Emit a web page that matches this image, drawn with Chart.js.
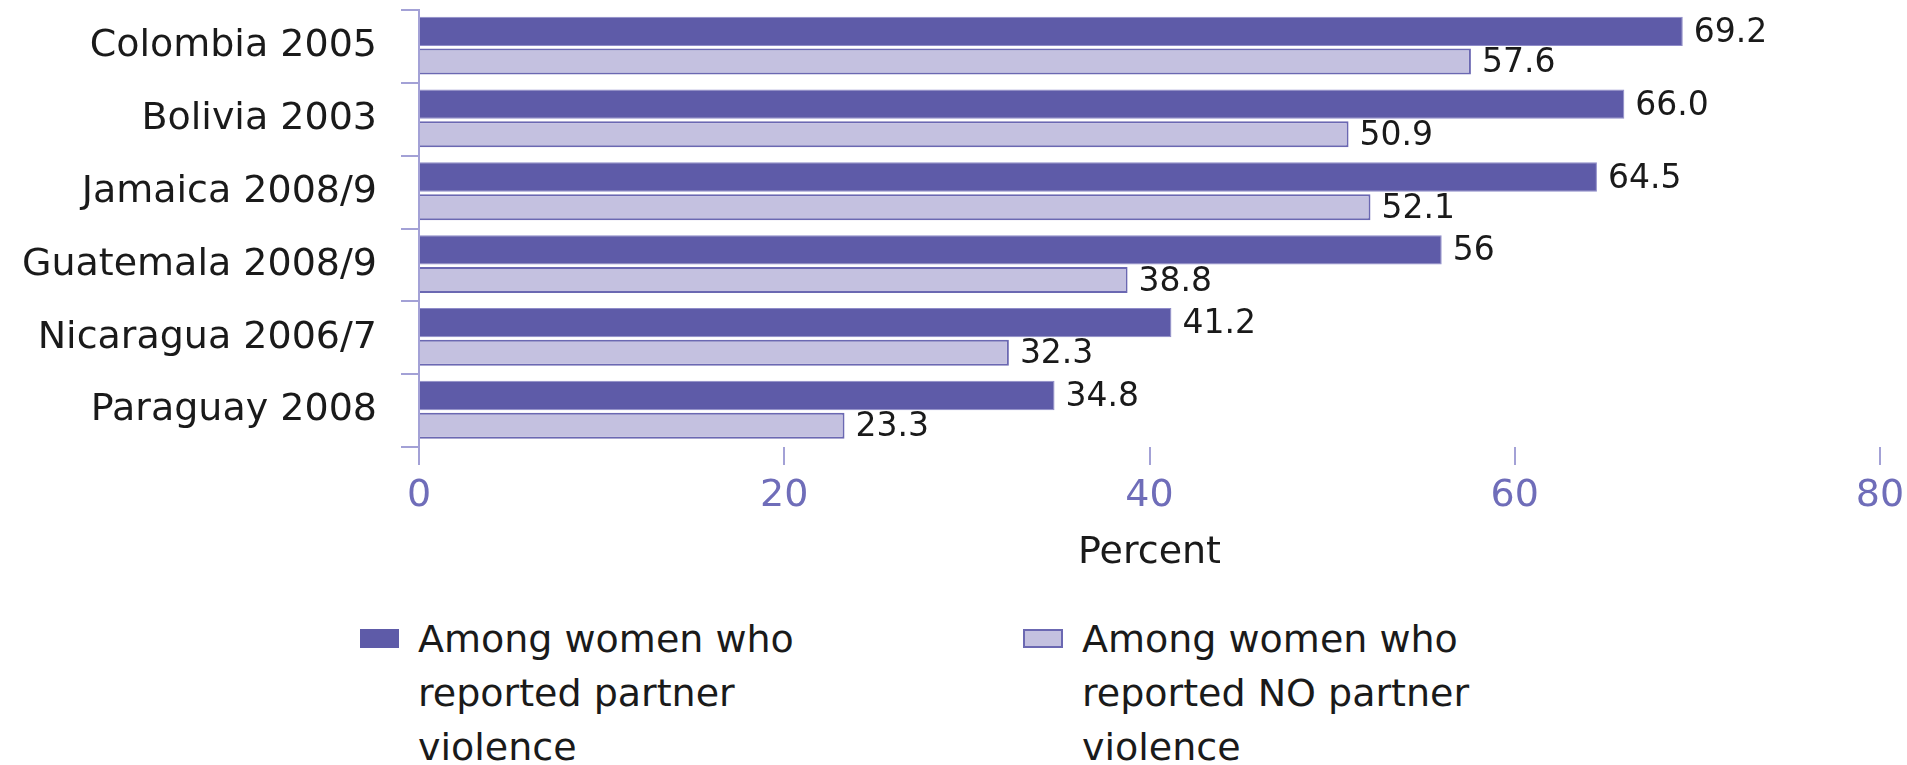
<!DOCTYPE html>
<html lang="en">
<head>
  <meta charset="UTF-8" />
  <title>Partner violence chart</title>
  <script src="https://cdn.jsdelivr.net/npm/chart.js"></script>
  <style>
    body { margin: 0; background: #fff; font-family: "DejaVu Sans", sans-serif; color: #1a1a1a; }
    .wrap { position: relative; width: 1907px; height: 765px; overflow: hidden; }
    #chart { position: absolute; left: 0; top: 0; }
    .legend-item { position: absolute; top: 612px; font-size: 38px; line-height: 54px; }
    .legend-item .box { position: absolute; top: 17px; height: 19px; box-sizing: border-box; }
    .legend-item .txt { position: absolute; top: 0; white-space: nowrap; }
  </style>
</head>
<body>
  <div class="wrap">
    <canvas id="chart" width="1907" height="600"></canvas>
    <div class="legend-item" style="left:360px">
      <div class="box" style="left:0; width:39px; background:#5e5ba8;"></div>
      <div class="txt" style="left:58px">Among women who<br>reported partner<br>violence</div>
    </div>
    <div class="legend-item" style="left:1023px">
      <div class="box" style="left:0; width:40px; background:#c4c1e0; border:2px solid #6b68b2;"></div>
      <div class="txt" style="left:59px">Among women who<br>reported NO partner<br>violence</div>
    </div>
  </div>

  <script>
    // --- data ---
    const countries = ['Colombia 2005', 'Bolivia 2003', 'Jamaica 2008/9', 'Guatemala 2008/9', 'Nicaragua 2006/7', 'Paraguay 2008'];
    const withViolence = [69.2, 66.0, 64.5, 56, 41.2, 34.8];
    const withoutViolence = [57.6, 50.9, 52.1, 38.8, 32.3, 23.3];
    const withViolenceText = ['69.2', '66.0', '64.5', '56', '41.2', '34.8'];
    const withoutViolenceText = ['57.6', '50.9', '52.1', '38.8', '32.3', '23.3'];
    const xTickValues = [0, 20, 40, 60, 80];

    const axisColor = '#a3a1d6';
    const tickColor = '#6f6db9';
    const fontFamily = "'DejaVu Sans', sans-serif";

    // writes the value just past the end of each bar
    const valueLabels = {
      id: 'valueLabels',
      afterDatasetsDraw(chart) {
        const ctx = chart.ctx;
        const texts = [withViolenceText, withoutViolenceText];
        ctx.save();
        ctx.font = '33px ' + fontFamily;
        ctx.fillStyle = '#1a1a1a';
        ctx.textAlign = 'left';
        ctx.textBaseline = 'middle';
        chart.data.datasets.forEach((ds, di) => {
          chart.getDatasetMeta(di).data.forEach((bar, i) => {
            ctx.fillText(texts[di][i], bar.x + 11, bar.y + 2);
          });
        });
        ctx.restore();
      }
    };

    new Chart(document.getElementById('chart'), {
      type: 'bar',
      data: {
        labels: countries,
        datasets: [
          {
            label: 'Among women who reported partner violence',
            data: withViolence,
            backgroundColor: '#5e5ba8',
            borderColor: '#8f8cc9',
            borderWidth: 1,
            categoryPercentage: 0.83,
            barPercentage: 0.97
          },
          {
            label: 'Among women who reported NO partner violence',
            data: withoutViolence,
            backgroundColor: '#c4c1e0',
            borderColor: '#6b68b2',
            borderWidth: 2,
            categoryPercentage: 0.83,
            barPercentage: 0.86
          }
        ]
      },
      options: {
        indexAxis: 'y',
        responsive: false,
        animation: false,
        devicePixelRatio: 1,
        layout: { padding: { top: 10, right: 27, left: 0, bottom: 0 } },
        plugins: { legend: { display: false }, tooltip: { enabled: false } },
        scales: {
          x: {
            min: 0,
            max: 80,
            afterBuildTicks: (axis) => { axis.ticks = xTickValues.map(v => ({ value: v })); },
            afterFit: (axis) => { axis.height = 153; axis.paddingLeft = 0; axis.paddingRight = 0; },
            border: { display: false },
            grid: { drawOnChartArea: false, drawTicks: true, tickLength: 18, color: axisColor, lineWidth: 2 },
            ticks: { color: tickColor, font: { family: fontFamily, size: 38 }, padding: 8 },
            title: {
              display: true,
              text: 'Percent',
              color: '#1a1a1a',
              font: { family: fontFamily, size: 38 },
              padding: { top: 0, bottom: 24 }
            }
          },
          y: {
            afterFit: (axis) => { axis.width = 419; axis.paddingTop = 0; axis.paddingBottom = 0; },
            border: { display: true, color: axisColor, width: 2 },
            grid: { drawOnChartArea: false, drawTicks: true, tickLength: 18, color: axisColor, lineWidth: 2 },
            ticks: { color: '#1a1a1a', font: { family: fontFamily, size: 38 }, padding: 24 }
          }
        }
      },
      plugins: [valueLabels]
    });
  </script>
</body>
</html>
